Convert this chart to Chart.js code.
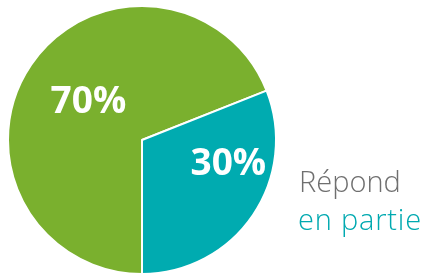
<!DOCTYPE html>
<html lang="fr">
<head>
    <meta charset="UTF-8">
    <title>Répond en partie</title>
    <script src="https://cdn.jsdelivr.net/npm/chart.js"></script>
    <style>
        body { margin: 0; background: #fff; }
        #wrap { position: relative; width: 425px; height: 275px; }
        .legend { position: absolute; left: 299px; font-family: "Open Sans", sans-serif; font-weight: 300; font-size: 29px; line-height: 36px; }
    </style>
</head>
<body>
    <div id="wrap">
        <canvas id="pieChart" width="425" height="275"></canvas>
        <div class="legend" style="top: 163px; color: #6f6f6f;">Répond</div>
        <div class="legend" style="top: 201px; left: 298px; color: #00a9b0; letter-spacing: 0.8px;">en partie</div>
    </div>

    <script>
        const categories = ['Autre', 'Répond en partie'];
        const values = [69, 31];
        const sliceLabels = ['70%', '30%'];
        const colors = ['#7ab02e', '#00abb0'];

        // draws the percentage text inside each slice
        const sliceText = {
            id: 'sliceText',
            afterDatasetsDraw(chart, args, opts) {
                const ctx = chart.ctx;
                const arcs = chart.getDatasetMeta(0).data;
                ctx.save();
                ctx.fillStyle = '#fff';
                ctx.font = 'bold 37px "Open Sans", sans-serif';
                ctx.textAlign = 'center';
                ctx.textBaseline = 'middle';
                arcs.forEach((arc, i) => {
                    const p = arc.getProps(['x', 'y', 'startAngle', 'endAngle', 'outerRadius']);
                    const a = (p.startAngle + p.endAngle) / 2 + opts.angleShift[i];
                    const r = p.outerRadius * opts.dist[i];
                    ctx.fillText(sliceLabels[i], p.x + Math.cos(a) * r, p.y + Math.sin(a) * r);
                });
                ctx.restore();
            }
        };

        new Chart(document.getElementById('pieChart'), {
            type: 'pie',
            data: {
                labels: categories,
                datasets: [{
                    data: values,
                    backgroundColor: colors,
                    borderColor: '#fff',
                    borderWidth: 2
                }]
            },
            options: {
                responsive: false,
                animation: false,
                rotation: 180,
                layout: { padding: { left: 7, right: 148, top: 5, bottom: 0 } },
                plugins: {
                    legend: { display: false },
                    tooltip: { enabled: false },
                    sliceText: { angleShift: [0.02, -0.32], dist: [0.49, 0.67] }
                }
            },
            plugins: [sliceText]
        });
    </script>
</body>
</html>
